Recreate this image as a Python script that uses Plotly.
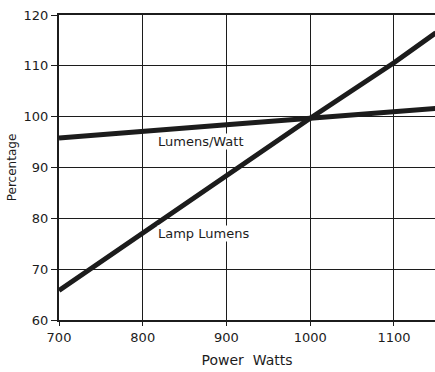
import plotly.graph_objects as go

power = [700, 800, 900, 1000, 1100, 1150]
lamp_lumens = [65.8, 77.1, 88.2, 99.7, 110.6, 116.5]
lumens_per_watt = [95.8, 97.2, 98.4, 99.7, 100.9, 101.6]
x_ticks = [700, 800, 900, 1000, 1100]
y_ticks = [60, 70, 80, 90, 100, 110, 120]

ink = "#1c1c1c"
font = "DejaVu Sans"

fig = go.Figure()
fig.add_trace(go.Scatter(x=power, y=lamp_lumens, mode="lines",
                         line=dict(color=ink, width=5), showlegend=False))
fig.add_trace(go.Scatter(x=power, y=lumens_per_watt, mode="lines",
                         line=dict(color=ink, width=5), showlegend=False))

fig.add_annotation(x=869, y=95.1, text="Lumens/Watt", showarrow=False,
                   font=dict(family=font, size=13, color=ink), bgcolor="white",
                   borderpad=0)
fig.add_annotation(x=873, y=77.0, text="Lamp Lumens", showarrow=False,
                   font=dict(family=font, size=13, color=ink), bgcolor="white",
                   borderpad=0)

fig.update_layout(
    width=435, height=372,
    margin=dict(l=59, r=0, t=15, b=52),
    paper_bgcolor="white", plot_bgcolor="white",
    font=dict(family=font, color=ink, size=13),
    xaxis=dict(range=[700, 1149], tickvals=x_ticks, showgrid=True,
               gridcolor=ink, gridwidth=1.2, showline=True, linecolor=ink,
               linewidth=2, mirror=True, ticks="outside", ticklen=4,
               tickcolor=ink, zeroline=False,
               title=dict(text="Power  Watts", standoff=12,
                          font=dict(size=14))),
    yaxis=dict(range=[60, 120], tickvals=y_ticks, showgrid=True,
               gridcolor=ink, gridwidth=1.2, showline=True, linecolor=ink,
               linewidth=2, ticks="outside", ticklen=6, tickcolor=ink,
               zeroline=False,
               title=dict(text="Percentage", standoff=4,
                          font=dict(size=12))),
)

fig.write_html("out.html")
